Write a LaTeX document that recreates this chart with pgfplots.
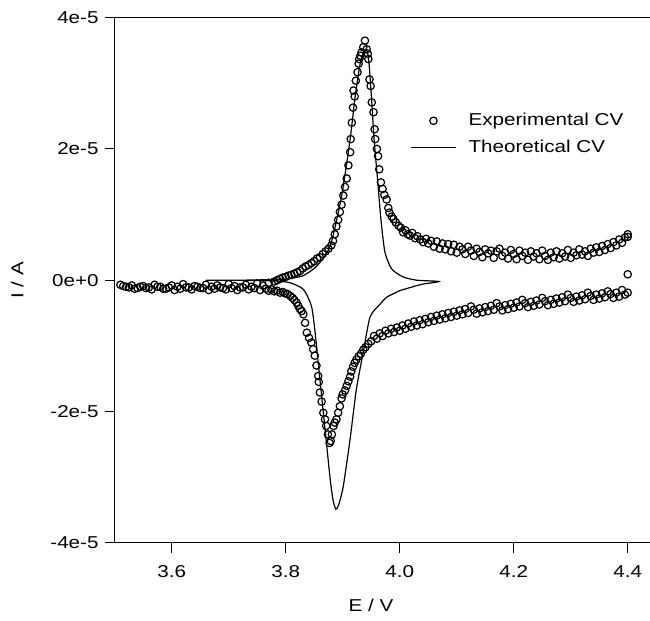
\documentclass[border=0pt]{standalone}
\usepackage{fontspec}
\setmainfont[FakeStretch=1.2]{Liberation Sans}
\usepackage{pgfplots}
\pgfplotsset{compat=1.18}
\begin{document}
\fontsize{8.6}{10}\selectfont
\begin{tikzpicture}
\useasboundingbox (-57.35pt,-39.15pt) rectangle (267.65pt,271.35pt);
\begin{axis}[
  at={(0,0)}, anchor=south west,
  scale only axis, width=269.35pt, height=262.5pt,
  xmin=3.5, xmax=4.445, ymin=-4, ymax=4,
  axis line style={line width=0.65pt},
  tick style={line width=0.5pt, black},
  tick align=outside, major tick length=5pt,
  xtick pos=bottom, ytick pos=left,
  xtick={3.6,3.8,4.0,4.2,4.4},
  xticklabels={3.6,3.8,4.0,4.2,4.4},
  ytick={-4,-2,0,2,4},
  yticklabels={-4e-5,-2e-5,0e+0,2e-5,4e-5},
  xticklabel style={yshift=-3.5pt},
  xlabel={E / V}, ylabel={I / A},
  xlabel style={at={(axis description cs:0.476,-0.119)}, anchor=center},
  ylabel style={at={(axis description cs:-0.181,0.5)}, anchor=center},
  legend style={at={(axis description cs:0.537,0.834)}, anchor=north west,
    draw=none, fill=none, row sep=2pt, font=\fontsize{8.6}{10}\selectfont,
    /tikz/every odd column/.append style={column sep=4pt}},
  legend cell align=left,
  legend image code/.code={\draw[mark repeat=2,mark phase=2,#1] plot coordinates {(0pt,0pt) (11.25pt,0pt) (22.5pt,0pt)};},
]
% theoretical CV
\addplot[black, line width=0.6pt, smooth, tension=0.4, forget plot] coordinates {
(3.66,0.0) (3.72,0.0) (3.78,0.01) (3.80,0.02) (3.83,0.066) (3.855,0.22) (3.878,0.52)
(3.898,1.28) (3.913,2.15) (3.922,2.81) (3.931,3.32) (3.937,3.48) (3.942,3.52)
(3.946,3.32) (3.951,2.71) (3.955,2.15) (3.961,1.55) (3.967,0.93) (3.974,0.43)
(3.986,0.17) (4.006,0.05) (4.030,0.0) (4.069,-0.02)
(4.04,-0.06) (4.023,-0.10) (4.0,-0.16) (3.988,-0.21) (3.977,-0.26) (3.965,-0.37)
(3.948,-0.56) (3.936,-1.10) (3.924,-1.66) (3.913,-2.42) (3.901,-3.14) (3.893,-3.42)
(3.888,-3.49) (3.883,-3.35) (3.878,-3.03) (3.869,-2.27) (3.860,-1.51) (3.851,-0.75)
(3.845,-0.39) (3.831,-0.14) (3.808,-0.04) (3.78,-0.01) (3.72,0.0) (3.66,0.0)
};
% experimental CV
\addplot[only marks, mark=o, mark size=1.85pt, mark options={fill=white, draw=black, line width=0.6pt}] coordinates {
(3.51,-0.07) (3.52,-0.10) (3.53,-0.08) (3.54,-0.12) (3.55,-0.09) (3.56,-0.11) (3.57,-0.07)
(3.58,-0.10) (3.59,-0.13) (3.60,-0.08) (3.61,-0.10) (3.62,-0.06) (3.63,-0.11) (3.64,-0.09)
(3.65,-0.12) (3.66,-0.07) (3.67,-0.10) (3.68,-0.08) (3.69,-0.12) (3.70,-0.06) (3.71,-0.09)
(3.72,-0.11) (3.73,-0.07) (3.74,-0.10) (3.75,-0.05) (3.76,-0.08) (3.77,-0.04) (3.78,-0.02)
(3.785,0.0) (3.79,0.02) (3.795,0.04) (3.80,0.05) (3.805,0.07) (3.81,0.08) (3.815,0.10)
(3.82,0.12) (3.825,0.14) (3.83,0.18) (3.835,0.21) (3.84,0.23) (3.845,0.26) (3.85,0.29)
(3.855,0.33) (3.86,0.35) (3.865,0.40) (3.87,0.44) (3.875,0.48) (3.88,0.53) (3.883,0.60)
(3.886,0.70) (3.889,0.82) (3.892,0.92) (3.895,1.04) (3.898,1.15) (3.901,1.29) (3.904,1.42)
(3.907,1.55) (3.910,1.75) (3.913,1.95) (3.914,2.15) (3.916,2.40) (3.918,2.63) (3.919,2.89)
(3.921,2.80) (3.923,3.04) (3.926,3.17) (3.928,3.30) (3.929,3.37) (3.931,3.42) (3.933,3.47)
(3.936,3.55) (3.939,3.65) (3.942,3.52) (3.944,3.45) (3.945,3.37) (3.947,3.06) (3.949,2.96)
(3.951,2.71) (3.954,2.56) (3.956,2.30) (3.957,2.15) (3.960,2.00) (3.962,1.89) (3.964,1.69)
(3.967,1.49) (3.970,1.39) (3.973,1.30) (3.977,1.23) (3.980,1.10) (3.982,1.03) (3.986,0.97)
(3.989,0.93) (3.993,0.88) (3.998,0.83) (4.002,0.80) (4.006,0.73) (4.010,0.76) (4.014,0.70)
(4.018,0.68) (4.022,0.72) (4.027,0.64) (4.031,0.67) (4.036,0.62) (4.041,0.58) (4.046,0.63)
(4.05,0.56) (4.055,0.60) (4.06,0.51) (4.065,0.59) (4.07,0.48) (4.075,0.56) (4.08,0.47)
(4.085,0.55) (4.09,0.44) (4.095,0.54) (4.10,0.42) (4.105,0.51) (4.11,0.47) (4.115,0.40)
(4.12,0.51) (4.125,0.45) (4.13,0.37) (4.135,0.48) (4.14,0.43) (4.145,0.35) (4.15,0.47)
(4.155,0.41) (4.16,0.45) (4.165,0.34) (4.17,0.44) (4.175,0.48) (4.18,0.37) (4.185,0.42)
(4.19,0.33) (4.195,0.46) (4.20,0.40) (4.205,0.32) (4.21,0.45) (4.215,0.37) (4.22,0.42)
(4.225,0.31) (4.23,0.44) (4.235,0.36) (4.24,0.41) (4.245,0.32) (4.25,0.45) (4.255,0.37)
(4.26,0.31) (4.265,0.42) (4.27,0.35) (4.275,0.44) (4.28,0.33) (4.285,0.41) (4.29,0.36)
(4.295,0.46) (4.30,0.34) (4.305,0.42) (4.31,0.38) (4.315,0.47) (4.32,0.39) (4.325,0.44)
(4.33,0.37) (4.335,0.48) (4.34,0.42) (4.345,0.50) (4.35,0.43) (4.355,0.52) (4.36,0.46)
(4.365,0.55) (4.37,0.49) (4.375,0.58) (4.38,0.53) (4.385,0.62) (4.39,0.57) (4.395,0.65)
(4.40,0.66) (4.40,0.70) (4.40,0.09)
(4.40,-0.19) (4.395,-0.22) (4.39,-0.15) (4.385,-0.25) (4.38,-0.19) (4.375,-0.27) (4.37,-0.21)
(4.365,-0.17) (4.36,-0.26) (4.355,-0.20) (4.35,-0.28) (4.345,-0.22) (4.34,-0.30) (4.335,-0.24)
(4.33,-0.19) (4.325,-0.29) (4.32,-0.23) (4.315,-0.31) (4.31,-0.25) (4.305,-0.33) (4.30,-0.27)
(4.295,-0.22) (4.29,-0.32) (4.285,-0.26) (4.28,-0.34) (4.275,-0.28) (4.27,-0.36) (4.265,-0.30)
(4.26,-0.38) (4.255,-0.32) (4.25,-0.27) (4.245,-0.37) (4.24,-0.31) (4.235,-0.39) (4.23,-0.33)
(4.225,-0.41) (4.22,-0.35) (4.215,-0.30) (4.21,-0.40) (4.205,-0.34) (4.20,-0.42) (4.195,-0.36)
(4.19,-0.44) (4.185,-0.38) (4.18,-0.46) (4.175,-0.40) (4.17,-0.35) (4.165,-0.45) (4.16,-0.39)
(4.155,-0.47) (4.15,-0.41) (4.145,-0.49) (4.14,-0.43) (4.135,-0.51) (4.13,-0.45) (4.125,-0.40)
(4.12,-0.50) (4.115,-0.44) (4.11,-0.52) (4.105,-0.46) (4.10,-0.54) (4.095,-0.48) (4.09,-0.56)
(4.085,-0.50) (4.08,-0.58) (4.075,-0.52) (4.07,-0.60) (4.065,-0.54) (4.06,-0.62) (4.055,-0.56)
(4.05,-0.64) (4.045,-0.59) (4.04,-0.67) (4.035,-0.61) (4.03,-0.69) (4.025,-0.63) (4.02,-0.71)
(4.015,-0.66) (4.01,-0.74) (4.005,-0.69) (4.00,-0.77) (3.995,-0.72) (3.99,-0.79) (3.985,-0.74)
(3.98,-0.81) (3.975,-0.77) (3.97,-0.85) (3.965,-0.81) (3.96,-0.89) (3.955,-0.85) (3.95,-0.93)
(3.945,-0.97) (3.94,-1.02) (3.936,-1.06) (3.932,-1.12) (3.928,-1.16) (3.924,-1.21) (3.921,-1.26)
(3.918,-1.32) (3.915,-1.39) (3.913,-1.47) (3.910,-1.54) (3.907,-1.61) (3.904,-1.68) (3.900,-1.74)
(3.898,-1.80) (3.895,-1.92) (3.892,-2.02) (3.889,-2.12) (3.886,-2.17) (3.884,-2.22) (3.881,-2.35)
(3.879,-2.45) (3.877,-2.48) (3.874,-2.35) (3.871,-2.22) (3.869,-2.12) (3.866,-2.02) (3.863,-1.85)
(3.860,-1.71) (3.858,-1.55) (3.857,-1.46) (3.854,-1.30) (3.851,-1.15) (3.848,-1.05) (3.845,-0.95)
(3.841,-0.88) (3.837,-0.80) (3.834,-0.65) (3.831,-0.52) (3.828,-0.47) (3.825,-0.44) (3.822,-0.39)
(3.819,-0.34) (3.815,-0.30) (3.812,-0.27) (3.808,-0.24) (3.803,-0.21) (3.799,-0.20) (3.795,-0.18)
(3.79,-0.19) (3.785,-0.16) (3.78,-0.17) (3.775,-0.14) (3.77,-0.16) (3.765,-0.13) (3.755,-0.15)
(3.745,-0.12) (3.735,-0.14) (3.725,-0.11) (3.715,-0.15) (3.705,-0.12) (3.695,-0.14) (3.685,-0.11)
(3.675,-0.13) (3.665,-0.15) (3.655,-0.12) (3.645,-0.10) (3.635,-0.14) (3.625,-0.11) (3.615,-0.13)
(3.605,-0.15) (3.595,-0.11) (3.585,-0.13) (3.575,-0.10) (3.565,-0.14) (3.555,-0.12) (3.545,-0.10)
(3.535,-0.13) (3.525,-0.11) (3.515,-0.09)
};
\addlegendentry{Experimental CV}
\addlegendimage{black, line width=0.6pt}
\addlegendentry{Theoretical CV}
\end{axis}
\end{tikzpicture}
\end{document}
